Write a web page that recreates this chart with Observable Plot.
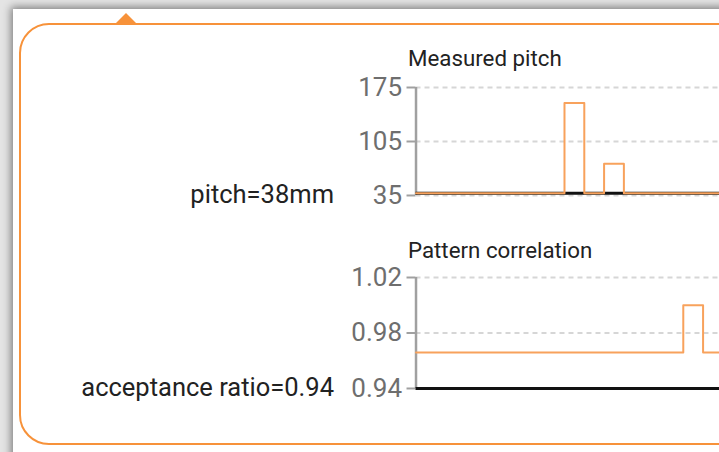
<!DOCTYPE html>
<html><head><meta charset="utf-8">
<script src="https://cdn.jsdelivr.net/npm/d3@7"></script>
<script src="https://cdn.jsdelivr.net/npm/@observablehq/plot@0.6"></script>
<style>
html,body{margin:0;padding:0;width:719px;height:452px;overflow:hidden;background:#e4e4e4;font-family:Roboto,sans-serif;}
#card{position:absolute;left:13px;top:9px;width:780px;height:480px;background:#fff;box-shadow:0 0 8px 2px rgba(0,0,0,0.45);}
#tip{position:absolute;left:19px;top:23px;width:760px;height:422px;border:2.6px solid #f7923a;border-radius:30px;box-sizing:border-box;}
#arrow{position:absolute;left:115px;top:13px;width:0;height:0;border-left:11.5px solid transparent;border-right:11.5px solid transparent;border-bottom:11px solid #f7923a;}
.lbl{position:absolute;right:385px;font-size:25.5px;line-height:25.5px;color:#222;white-space:nowrap;}
.ttl{position:absolute;left:408px;font-size:22.3px;line-height:22.3px;color:#222;white-space:nowrap;}
.chart{position:absolute;left:340px;width:600px;}
.chart svg{overflow:visible;max-width:none !important;font-family:Roboto,sans-serif;}
</style></head>
<body>
<div id="card"></div>
<div id="tip"></div>
<div id="arrow"></div>
<div class="ttl" style="top:47px">Measured pitch</div>
<div class="ttl" style="top:239px">Pattern correlation</div>
<div class="lbl" id="l1" style="top:181.5px"></div>
<div class="lbl" id="l2" style="top:374.5px"></div>
<div class="chart" id="c1" style="top:75px"></div>
<div class="chart" id="c2" style="top:265px"></div>
<script>
// data
const steps = d3.range(0, 20);
const pitchValues = [38,38,38,38,38,38,38,38,155,38,76,38,38,38,38,38,38,38,38,38];
const correlationValues = [0.966,0.966,0.966,0.966,0.966,0.966,0.966,0.966,0.966,0.966,0.966,0.966,0.966,0.966,1.0,0.966,0.966,0.966,0.966,0.966];
const pitchTicks = [35, 105, 175];
const correlationTicks = [0.94, 0.98, 1.02];
const pitchThreshold = 38;
const acceptanceRatio = 0.94;
const pitchLabel = `pitch=${pitchThreshold}mm`;
const ratioLabel = `acceptance ratio=${acceptanceRatio}`;

document.getElementById("l1").textContent = pitchLabel;
document.getElementById("l2").textContent = ratioLabel;

const orange = "#f8a25c";
const stepW = 19.8;
const mL = 75.5;
const W = mL + (steps.length - 1) * stepW;

function chart(values, ticks, threshold, h, mt, mb, fmt) {
  const data = steps.map((s, i) => ({s, v: values[i]}));
  return Plot.plot({
    width: W, height: h,
    marginLeft: mL, marginRight: 0, marginTop: mt, marginBottom: mb,
    style: {background: "transparent", color: "#6a6a6a"},
    x: {domain: [0, steps.length - 1], range: [mL, W], axis: null},
    y: {domain: [ticks[0], ticks[ticks.length - 1]], ticks: ticks, tickFormat: fmt, tickSize: 9, tickPadding: 5, label: null},
    marks: [
      Plot.ruleY(ticks, {stroke: "#d6d6d6", strokeWidth: 2.2, strokeDasharray: "5,4"}),
      Plot.ruleX([0], {y1: ticks[0], y2: ticks[ticks.length - 1], stroke: "#a0a0a0", strokeWidth: 2.5}),
      Plot.ruleY([threshold], {stroke: "#111", strokeWidth: 3}),
      Plot.line(data, {x: "s", y: "v", curve: "step", stroke: orange, strokeWidth: 2})
    ]
  });
}

const c1 = chart(pitchValues, pitchTicks, pitchThreshold, 130, 12, 10, d => String(d));
const c2 = chart(correlationValues, correlationTicks, acceptanceRatio, 135, 12, 12, d => d.toFixed(2));
document.getElementById("c1").appendChild(c1);
document.getElementById("c2").appendChild(c2);
d3.selectAll(".chart svg").style("max-width", "none");
d3.selectAll(".chart svg text").attr("font-size", "26px").attr("fill", "#6e6e6e");
d3.selectAll(".chart svg g[aria-label='y-axis tick'] path").attr("stroke", "#a0a0a0").attr("stroke-width", 2);
</script>
</body></html>
